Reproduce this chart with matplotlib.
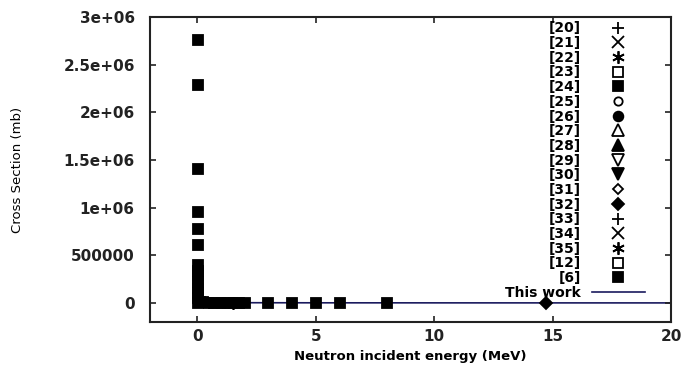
import matplotlib.pyplot as plt
import numpy as np

plt.rcParams['font.family'] = ['DejaVu Sans']

# reference data sets (energy in MeV, cross section in mb)
e_6 = [0.0253, 0.0253, 0.0253, 0.0253, 0.0253, 0.0253, 0.0253, 0.0253, 0.0253,
       0.0253, 0.0253, 0.0253, 0.0253, 0.0253]
cs_6 = [2760000, 2290000, 1400000, 950000, 780000, 610000, 400000, 340000,
        280000, 220000, 160000, 100000, 50000, 0]
e_24 = [0.1, 0.25, 0.5, 0.75, 1.0, 1.25, 1.5, 1.75, 2.0, 3.0, 4.0, 5.0, 6.0, 8.0]
cs_24 = [9000, 6000, 4500, 4000, 3500, 3200, 3000, 2800, 2700, 2500, 2300, 2200, 2100, 2000]
e_20 = [0.5]
cs_20 = [5000]
e_22 = [1.5]
cs_22 = [3000]
e_32 = [14.7]
cs_32 = [1800]

# this work
e_tw = [0.001, 0.01, 0.05, 0.1, 0.5, 1, 2, 5, 8, 10, 15, 20]
cs_tw = [200000, 60000, 25000, 15000, 6000, 4000, 3000, 2000, 1700, 1500, 1200, 1000]

labels = ['[20]', '[21]', '[22]', '[23]', '[24]', '[25]', '[26]', '[27]', '[28]',
          '[29]', '[30]', '[31]', '[32]', '[33]', '[34]', '[35]', '[12]', '[6]']
markers = ['+', 'x', (6, 2, 0), 's', 's', 'o', 'o', '^', '^', 'v', 'v', 'D', 'D',
           '+', 'x', (6, 2, 0), 's', 's']
filled = [True, True, True, False, True, False, True, False, True, False, True,
          False, True, True, True, True, False, True]
sizes = [9, 8, 9, 7, 7, 6, 7, 8, 8, 8, 8, 5, 6, 9, 8, 9, 7, 7]

series = {'[20]': (e_20, cs_20), '[22]': (e_22, cs_22),
          '[24]': (e_24, cs_24), '[32]': (e_32, cs_32), '[6]': (e_6, cs_6)}

fig = plt.figure(figsize=(6.82, 3.66), dpi=100)
ax = fig.add_axes([0.22, 0.12, 0.764, 0.834])

ax.plot(e_tw, cs_tw, color='#1a1a5e', lw=1.2, zorder=1)

handles = []
for lab, m, f, s in zip(labels, markers, filled, sizes):
    x, y = series.get(lab, ([], []))
    mfc = 'black' if f else 'white'
    h, = ax.plot(x, y, ls='none', marker=m, ms=s, mfc=mfc, mec='black',
                 mew=1.3, color='black', zorder=3)
    handles.append(h)

tw_h, = ax.plot([], [], color='#1a1a5e', lw=1.2)
handles.append(tw_h)

leg = ax.legend(handles, labels + ['This work'], loc='upper right',
                bbox_to_anchor=(0.968, 1.017), frameon=False, markerfirst=False,
                labelspacing=0.05, handlelength=3.8,
                handletextpad=0.8, borderpad=0.2,
                prop={'weight': 'bold', 'size': 10})

ax.set_xlim(-2, 20)
ax.set_ylim(-200000, 3000000)
ax.set_xticks([0, 5, 10, 15, 20])
ax.set_yticks([0, 500000, 1000000, 1500000, 2000000, 2500000, 3000000])
ax.set_yticklabels(['0', '500000', '1e+06', '1.5e+06', '2e+06', '2.5e+06', '3e+06'])
ax.tick_params(direction='in', top=True, right=True, length=4, width=1.2,
               labelsize=11, colors='#222222')
ax.tick_params(axis='y', pad=11)
ax.tick_params(axis='x', pad=5)
for t in ax.get_xticklabels() + ax.get_yticklabels():
    t.set_fontweight('bold')
for sp in ax.spines.values():
    sp.set_linewidth(1.5)
    sp.set_color('#222222')

ax.set_xlabel('Neutron incident energy (MeV)', fontsize=9.5, fontweight='bold',
              labelpad=4)
ax.set_ylabel('Cross Section (mb)', fontsize=9.5, labelpad=28, color='black')

fig.savefig('out.png', dpi=100)
